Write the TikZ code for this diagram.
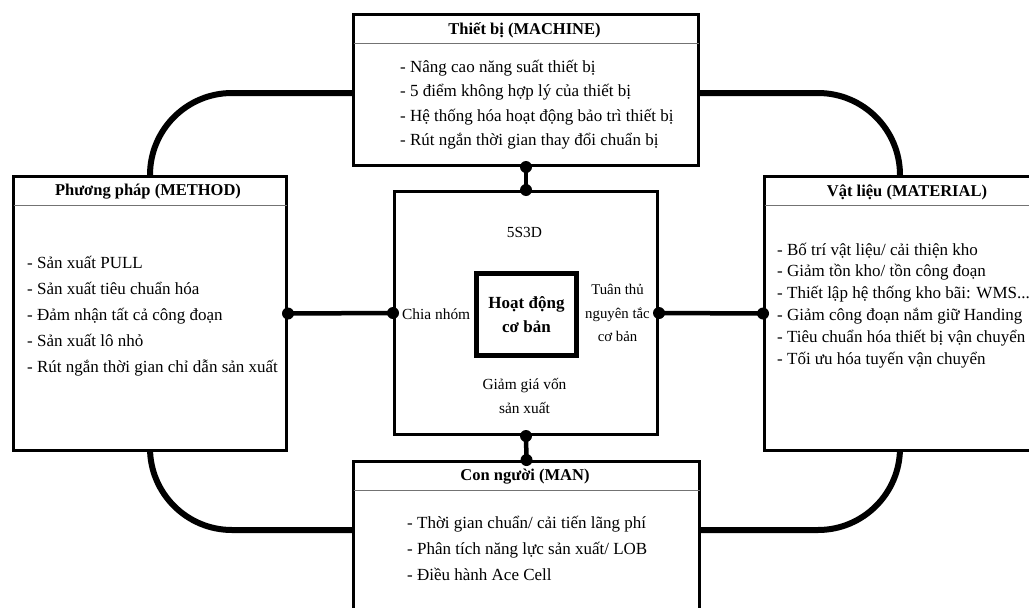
\documentclass[tikz,border=0pt]{standalone}
\usepackage{fontspec}
\setmainfont{Liberation Serif}
\begin{document}
\begin{tikzpicture}[x=1pt,y=-1pt,
  box/.style={draw, line width=3pt, fill=white, anchor=north west, inner sep=0pt},
  ring/.style={line width=6pt, rounded corners=82pt},
  conn/.style={line width=4.5pt},
  dot/.style={circle, fill=black, inner sep=0pt, minimum size=12pt},
  head/.style={font=\bfseries\fontsize{16.5}{19}\selectfont, inner sep=0pt},
  item/.style={font=\fontsize{17}{20}\selectfont, anchor=base west, inner sep=0pt},
  lab/.style={font=\fontsize{15.4}{23.5}\selectfont, align=center, inner sep=0pt},
  sep/.style={line width=1pt, black!55}]
\useasboundingbox (0,0) rectangle (1029,608);

% ring coordinates
\coordinate (tl1) at (150,180);
\coordinate (tl2) at (356,93);
\coordinate (tr1) at (693,93);
\coordinate (tr2) at (900,180);
\coordinate (bl1) at (150,444);
\coordinate (bl2) at (356,530);
\coordinate (br1) at (694,530);
\coordinate (br2) at (900,444);
\draw[ring] (tl1) |- (tl2);
\draw[ring] (tr1) -| (tr2);
\draw[ring] (bl1) |- (bl2);
\draw[ring] (br1) -| (br2);

% boxes
\node[box, minimum width=345pt, minimum height=151pt] (machine) at (352,13) {};
\node[box, minimum width=273pt, minimum height=274pt] (method) at (12,175) {};
\node[box, minimum width=272pt, minimum height=274pt] (material) at (763,175) {};
\node[box, minimum width=346pt, minimum height=160pt] (man) at (352,460) {};
\node[box, minimum width=263pt, minimum height=243pt] (center) at (393,190) {};
\node[box, line width=5pt, minimum width=100pt, minimum height=82pt, align=center,
      font=\bfseries\fontsize{17}{24}\selectfont] (inner) at (474,271) {Hoạt động\\cơ bản};

% separators
\draw[sep] ([xshift=1.5pt,yshift=-30pt]machine.north west) -- ([xshift=-1.5pt,yshift=-30pt]machine.north east);
\draw[sep] ([xshift=1.5pt,yshift=-30pt]method.north west) -- ([xshift=-1.5pt,yshift=-30pt]method.north east);
\draw[sep] ([xshift=1.5pt,yshift=-30pt]material.north west) -- ([xshift=-1.5pt,yshift=-30pt]material.north east);
\draw[sep] ([xshift=1.5pt,yshift=-30pt]man.north west) -- ([xshift=-1.5pt,yshift=-30pt]man.north east);

% connectors
\draw[conn] (method.east) -- (center.west);
\draw[conn] (center.east) -- (material.west);
\draw[conn] (machine.south) -- (center.north);
\draw[conn] (center.south) -- (man.north);
\foreach \p [count=\i] in {method.east, center.west, center.east, material.west,
  machine.south, center.north, center.south, man.north}
  \node[dot] (d\i) at (\p) {};

% titles
\node[head] (tmachine) at (524.5,30) {Thiết bị (MACHINE)};
\node[head] (tmethod) at (148,192) {Phương pháp (METHOD)};
\node[head] (tmaterial) at (907,192) {Vật liệu (MATERIAL)};
\node[head] (tman) at (525,477) {Con người (MAN)};

% items
\foreach \t [count=\i] in {{- Nâng cao năng suất thiết bị}, {- 5 điểm không hợp lý của thiết bị},
  {- Hệ thống hóa hoạt động bảo trì thiết bị}, {- Rút ngắn thời gian thay đổi chuẩn bị}}
  \node[item] (ma\i) at (400,{72+24.5*(\i-1)}) {\t};
\foreach \t [count=\i] in {{- Sản xuất PULL}, {- Sản xuất tiêu chuẩn hóa}, {- Đảm nhận tất cả công đoạn},
  {- Sản xuất lô nhỏ}, {- Rút ngắn thời gian chỉ dẫn sản xuất}}
  \node[item] (me\i) at (27,{268+26.2*(\i-1)}) {\t};
\foreach \t [count=\i] in {{- Bố trí vật liệu/ cải thiện kho}, {- Giảm tồn kho/ tồn công đoạn},
  {- Thiết lập hệ thống kho bãi: WMS.{}.{}.}, {- Giảm công đoạn nắm giữ Handing},
  {- Tiêu chuẩn hóa thiết bị vận chuyển}, {- Tối ưu hóa tuyến vận chuyển}}
  \node[item] (mt\i) at (777,{255+21.8*(\i-1)}) {\t};
\foreach \t [count=\i] in {{- Thời gian chuẩn/ cải tiến lãng phí}, {- Phân tích năng lực sản xuất/ LOB},
  {- Điều hành Ace Cell}}
  \node[item] (mn\i) at (407,{528+26*(\i-1)}) {\t};

% center labels
\node[lab] (s5) at (524.5,232) {5S3D};
\node[lab, anchor=west] (chia) at (402,314) {Chia nhóm};
\node[lab, font=\fontsize{14.8}{23.5}\selectfont] (tuan) at (617.5,313) {Tuân thủ\\nguyên tắc\\cơ bản};
\node[lab] (giam) at (524.5,396) {Giảm giá vốn\\sản xuất};
\end{tikzpicture}
\end{document}
